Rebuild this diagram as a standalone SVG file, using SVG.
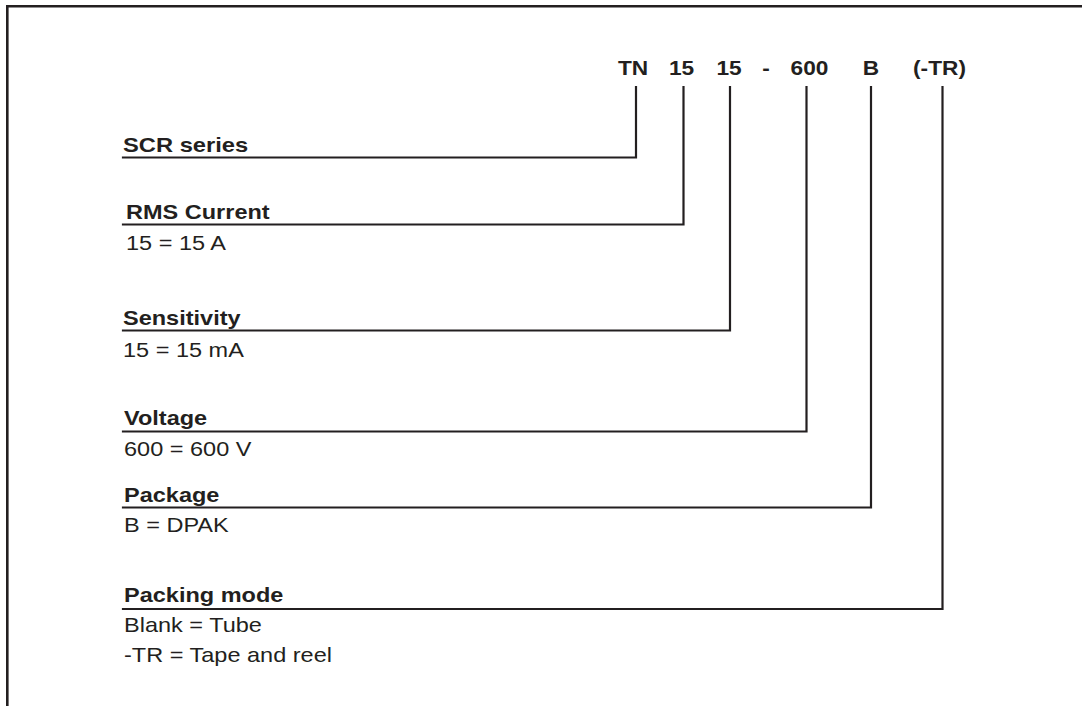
<svg xmlns="http://www.w3.org/2000/svg" width="1082" height="706" viewBox="0 0 1082 706">
<style>
.frame{fill:none;stroke:#231f20;stroke-width:2.6}
.ln{fill:none;stroke:#231f20;stroke-width:2.2;stroke-linejoin:miter;stroke-linecap:square}
.code{font-family:"Liberation Sans",Arial,sans-serif;font-weight:bold;font-size:21px;fill:#231f20;text-anchor:middle}
.hd{font-family:"Liberation Sans",Arial,sans-serif;font-weight:bold;font-size:21px;fill:#231f20}
.tx{font-family:"Liberation Sans",Arial,sans-serif;font-size:21px;fill:#231f20}
</style>
<rect width="1082" height="706" fill="#ffffff"/>
<path class="frame" d="M7.3,706 V6.3 H1082"/>
<g id="code">
<text class="code" transform="translate(633,75) scale(1.08,1)">TN</text>
<text class="code" transform="translate(681.5,75) scale(1.08,1)">15</text>
<text class="code" transform="translate(729,75) scale(1.08,1)">15</text>
<text class="code" transform="translate(766,75) scale(1.08,1)">-</text>
<text class="code" transform="translate(809.5,75) scale(1.08,1)">600</text>
<text class="code" transform="translate(871,75) scale(1.08,1)">B</text>
<text class="code" transform="translate(939.5,75) scale(1.08,1)">(-TR)</text>
</g>
<g id="connectors">
<path class="ln" d="M636,87 V157.5 H123"/>
<path class="ln" d="M683.5,87 V224.5 H123"/>
<path class="ln" d="M730,87 V330.5 H123"/>
<path class="ln" d="M806.5,87 V431.5 H123"/>
<path class="ln" d="M871,87 V507.5 H123"/>
<path class="ln" d="M942.5,87 V609 H123"/>
</g>
<g id="scr-series">
<text class="hd" transform="translate(123,152) scale(1.13,1)">SCR series</text>
</g>
<g id="rms-current">
<text class="hd" transform="translate(126,219) scale(1.12,1)">RMS Current</text>
<text class="tx" transform="translate(126,250) scale(1.12,1)">15 = 15 A</text>
</g>
<g id="sensitivity">
<text class="hd" transform="translate(123,324.5) scale(1.12,1)">Sensitivity</text>
<text class="tx" transform="translate(123,356.5) scale(1.12,1)">15 = 15 mA</text>
</g>
<g id="voltage">
<text class="hd" transform="translate(124,424.5) scale(1.12,1)">Voltage</text>
<text class="tx" transform="translate(124,456) scale(1.12,1)">600 = 600 V</text>
</g>
<g id="package">
<text class="hd" transform="translate(124,501.5) scale(1.12,1)">Package</text>
<text class="tx" transform="translate(124,531.5) scale(1.12,1)">B = DPAK</text>
</g>
<g id="packing-mode">
<text class="hd" transform="translate(124,601.5) scale(1.12,1)">Packing mode</text>
<text class="tx" transform="translate(124,631.5) scale(1.12,1)">Blank = Tube</text>
<text class="tx" transform="translate(124,661.5) scale(1.12,1)">-TR = Tape and reel</text>
</g>
</svg>
